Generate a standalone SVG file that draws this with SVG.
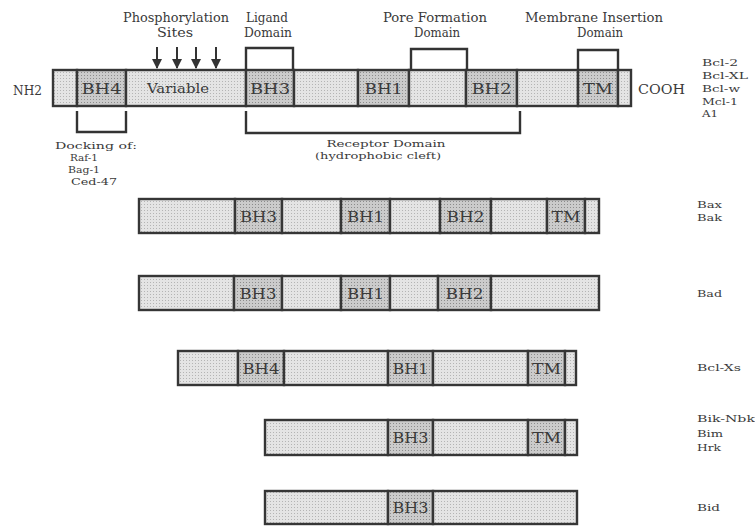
<svg xmlns="http://www.w3.org/2000/svg" width="755" height="528" viewBox="0 0 755 528">
<style>
.t{font-family:"DejaVu Serif","Liberation Serif",serif;font-size:12.5px;fill:#3a3a3a}
.s{font-family:"DejaVu Serif","Liberation Serif",serif;font-size:10px;fill:#3a3a3a}
.c{text-anchor:middle}
.bh{font-family:"DejaVu Serif","Liberation Serif",serif;font-size:15px;fill:#3a3a3a;text-anchor:middle}
.l{fill:url(#lt);stroke:#363636;stroke-width:2.4}
.d{fill:url(#dk);stroke:#363636;stroke-width:2.4}
.br{fill:none;stroke:#333;stroke-width:2.4}
.ar{stroke:#333;stroke-width:2;marker-end:url(#ah)}
</style>
<defs>
<pattern id="lt" width="3" height="3" patternUnits="userSpaceOnUse"><rect width="3" height="3" fill="#e4e4e4"/><rect width="1" height="1" fill="#b4b4b4"/></pattern>
<pattern id="dk" width="3" height="3" patternUnits="userSpaceOnUse"><rect width="3" height="3" fill="#cbcbcb"/><rect width="1" height="1" fill="#8c8c8c"/></pattern>
<marker id="ah" viewBox="0 0 10 10" refX="9" refY="5" markerWidth="5" markerHeight="5" markerUnits="strokeWidth" orient="auto"><path d="M0,0 L10,5 L0,10 z" fill="#333"/></marker>
</defs>
<rect width="755" height="528" fill="#fff"/>

<g id="labels-top">
<text class="t c" x="176" y="22" textLength="106" lengthAdjust="spacingAndGlyphs">Phosphorylation</text>
<text class="t c" x="175" y="37" textLength="36" lengthAdjust="spacingAndGlyphs">Sites</text>
<text class="t c" x="267" y="22" textLength="42" lengthAdjust="spacingAndGlyphs">Ligand</text>
<text class="t c" x="268" y="37" textLength="48" lengthAdjust="spacingAndGlyphs">Domain</text>
<text class="t c" x="435" y="22" textLength="104" lengthAdjust="spacingAndGlyphs">Pore Formation</text>
<text class="t c" x="437" y="37" textLength="46" lengthAdjust="spacingAndGlyphs">Domain</text>
<text class="t c" x="594" y="22" textLength="138" lengthAdjust="spacingAndGlyphs">Membrane Insertion</text>
<text class="t c" x="600" y="37" textLength="46" lengthAdjust="spacingAndGlyphs">Domain</text>
<text class="t" x="13" y="95" textLength="29" lengthAdjust="spacingAndGlyphs">NH2</text>
<text class="t" x="638" y="94" textLength="47" lengthAdjust="spacingAndGlyphs">COOH</text>
<text class="s c" x="386" y="147" textLength="119" lengthAdjust="spacingAndGlyphs">Receptor Domain</text>
<text class="s c" x="378" y="159" textLength="126" lengthAdjust="spacingAndGlyphs">(hydrophobic cleft)</text>
<text class="s" x="55" y="149" textLength="82" lengthAdjust="spacingAndGlyphs">Docking of:</text>
<text class="s" x="70" y="161" textLength="28" lengthAdjust="spacingAndGlyphs">Raf-1</text>
<text class="s" x="68" y="173" textLength="32" lengthAdjust="spacingAndGlyphs">Bag-1</text>
<text class="s" x="71" y="185" textLength="46" lengthAdjust="spacingAndGlyphs">Ced-47</text>
</g>

<g id="family-labels">
<text class="s" x="702" y="66" textLength="36" lengthAdjust="spacingAndGlyphs">Bcl-2</text>
<text class="s" x="702" y="79" textLength="46" lengthAdjust="spacingAndGlyphs">Bcl-XL</text>
<text class="s" x="702" y="92" textLength="38" lengthAdjust="spacingAndGlyphs">Bcl-w</text>
<text class="s" x="702" y="105" textLength="36" lengthAdjust="spacingAndGlyphs">Mcl-1</text>
<text class="s" x="702" y="117" textLength="16" lengthAdjust="spacingAndGlyphs">A1</text>
<text class="s" x="697" y="208" textLength="25" lengthAdjust="spacingAndGlyphs">Bax</text>
<text class="s" x="697" y="221" textLength="25" lengthAdjust="spacingAndGlyphs">Bak</text>
<text class="s" x="697" y="297" textLength="25" lengthAdjust="spacingAndGlyphs">Bad</text>
<text class="s" x="697" y="371" textLength="44" lengthAdjust="spacingAndGlyphs">Bcl-Xs</text>
<text class="s" x="697" y="422" textLength="58" lengthAdjust="spacingAndGlyphs">Bik-Nbk</text>
<text class="s" x="697" y="437" textLength="26" lengthAdjust="spacingAndGlyphs">Bim</text>
<text class="s" x="697" y="451" textLength="24" lengthAdjust="spacingAndGlyphs">Hrk</text>
<text class="s" x="697" y="511" textLength="23" lengthAdjust="spacingAndGlyphs">Bid</text>
</g>

<g id="bcl2">
<rect class="l" x="53" y="70" width="24" height="36"/>
<rect class="d" x="77" y="70" width="49" height="36"/>
<rect class="l" x="126" y="70" width="120" height="36"/>
<rect class="d" x="246" y="70" width="48" height="36"/>
<rect class="l" x="294" y="70" width="64" height="36"/>
<rect class="d" x="358" y="70" width="51" height="36"/>
<rect class="l" x="409" y="70" width="57" height="36"/>
<rect class="d" x="466" y="70" width="51" height="36"/>
<rect class="l" x="517" y="70" width="61" height="36"/>
<rect class="d" x="578" y="70" width="40" height="36"/>
<rect class="l" x="618" y="70" width="13" height="36"/>
<text class="bh" x="101.5" y="94" textLength="40" lengthAdjust="spacingAndGlyphs">BH4</text>
<text class="t c" x="178" y="93" textLength="62" lengthAdjust="spacingAndGlyphs">Variable</text>
<text class="bh" x="270" y="94" textLength="40" lengthAdjust="spacingAndGlyphs">BH3</text>
<text class="bh" x="383.5" y="94" textLength="38" lengthAdjust="spacingAndGlyphs">BH1</text>
<text class="bh" x="491.5" y="94" textLength="40" lengthAdjust="spacingAndGlyphs">BH2</text>
<text class="bh" x="598" y="94" textLength="30" lengthAdjust="spacingAndGlyphs">TM</text>
</g>

<g id="bax">
<rect class="l" x="139" y="199" width="96" height="34"/>
<rect class="d" x="235" y="199" width="47" height="34"/>
<rect class="l" x="282" y="199" width="59" height="34"/>
<rect class="d" x="341" y="199" width="49" height="34"/>
<rect class="l" x="390" y="199" width="50" height="34"/>
<rect class="d" x="440" y="199" width="51" height="34"/>
<rect class="l" x="491" y="199" width="56" height="34"/>
<rect class="d" x="547" y="199" width="38" height="34"/>
<rect class="l" x="585" y="199" width="14" height="34"/>
<text class="bh" x="258.5" y="222" textLength="37" lengthAdjust="spacingAndGlyphs">BH3</text>
<text class="bh" x="365.5" y="222" textLength="37" lengthAdjust="spacingAndGlyphs">BH1</text>
<text class="bh" x="465.5" y="222" textLength="38" lengthAdjust="spacingAndGlyphs">BH2</text>
<text class="bh" x="566" y="222" textLength="29" lengthAdjust="spacingAndGlyphs">TM</text>
</g>

<g id="bad">
<rect class="l" x="139" y="276" width="95" height="34"/>
<rect class="d" x="234" y="276" width="48" height="34"/>
<rect class="l" x="282" y="276" width="59" height="34"/>
<rect class="d" x="341" y="276" width="49" height="34"/>
<rect class="l" x="390" y="276" width="48" height="34"/>
<rect class="d" x="438" y="276" width="53" height="34"/>
<rect class="l" x="491" y="276" width="108" height="34"/>
<text class="bh" x="258" y="299" textLength="37" lengthAdjust="spacingAndGlyphs">BH3</text>
<text class="bh" x="365.5" y="299" textLength="37" lengthAdjust="spacingAndGlyphs">BH1</text>
<text class="bh" x="464.5" y="299" textLength="38" lengthAdjust="spacingAndGlyphs">BH2</text>
</g>

<g id="bclxs">
<rect class="l" x="178" y="351" width="60" height="34"/>
<rect class="d" x="238" y="351" width="46" height="34"/>
<rect class="l" x="284" y="351" width="104" height="34"/>
<rect class="d" x="388" y="351" width="45" height="34"/>
<rect class="l" x="433" y="351" width="95" height="34"/>
<rect class="d" x="528" y="351" width="37" height="34"/>
<rect class="l" x="565" y="351" width="11" height="34"/>
<text class="bh" x="261" y="374" textLength="37" lengthAdjust="spacingAndGlyphs">BH4</text>
<text class="bh" x="410.5" y="374" textLength="36" lengthAdjust="spacingAndGlyphs">BH1</text>
<text class="bh" x="546.5" y="374" textLength="29" lengthAdjust="spacingAndGlyphs">TM</text>
</g>

<g id="bik">
<rect class="l" x="265" y="420" width="123" height="35"/>
<rect class="d" x="388" y="420" width="45" height="35"/>
<rect class="l" x="433" y="420" width="95" height="35"/>
<rect class="d" x="528" y="420" width="37" height="35"/>
<rect class="l" x="565" y="420" width="12" height="35"/>
<text class="bh" x="410.5" y="443" textLength="36" lengthAdjust="spacingAndGlyphs">BH3</text>
<text class="bh" x="546.5" y="443" textLength="29" lengthAdjust="spacingAndGlyphs">TM</text>
</g>

<g id="bid">
<rect class="l" x="265" y="491" width="123" height="33"/>
<rect class="d" x="388" y="491" width="45" height="33"/>
<rect class="l" x="433" y="491" width="144" height="33"/>
<text class="bh" x="410.5" y="513" textLength="36" lengthAdjust="spacingAndGlyphs">BH3</text>
</g>

<g id="connectors">
<path class="br" d="M246,70 V48 H293 V70"/>
<path class="br" d="M411,70 V49 H467 V70"/>
<path class="br" d="M578,70 V50 H618 V70"/>
<path class="br" d="M77,111 V132 H126 V111"/>
<path class="br" d="M246,111 V133 H520 V111"/>
<line class="ar" x1="157" y1="47" x2="157" y2="68"/>
<line class="ar" x1="177" y1="47" x2="177" y2="68"/>
<line class="ar" x1="196" y1="47" x2="196" y2="68"/>
<line class="ar" x1="216" y1="47" x2="216" y2="68"/>
</g>
</svg>
